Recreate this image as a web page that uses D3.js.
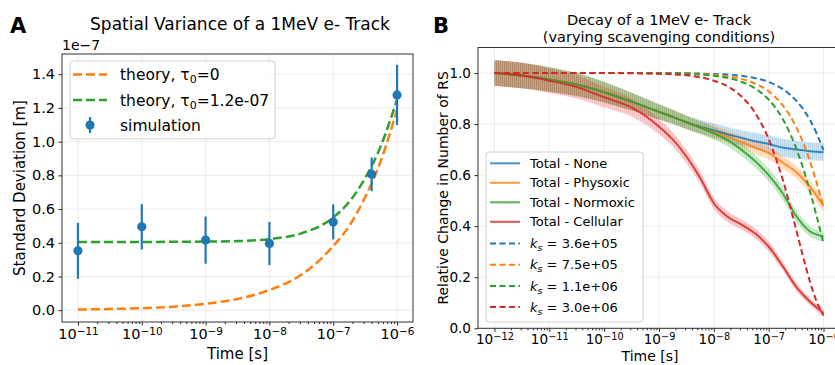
<!DOCTYPE html>
<html>
<head>
<meta charset="utf-8">
<script src="https://cdn.jsdelivr.net/npm/d3@7"></script>
<style>
  body { margin: 0; background: #fff; }
  text { font-family: "DejaVu Sans", sans-serif; fill: #000; }
</style>
</head>
<body>
<div id="chart"></div>
<script>
var width = 835;
var height = 365;

// ---- panel A data (std dev in units of 1e-7 m)
var simTime = [1e-11, 1e-10, 1e-9, 1e-8, 1e-7, 4e-7, 1e-6];
var simMean = [0.352, 0.495, 0.416, 0.396, 0.524, 0.806, 1.277];
var simErr = [0.166, 0.134, 0.14, 0.128, 0.104, 0.1, 0.178];

var theoryTime = [1e-11, 3.16e-11, 1e-10, 3.16e-10, 1e-9, 3.16e-9, 1e-8, 3.16e-8, 1e-7, 1.78e-7, 3.16e-7, 5.62e-7, 1e-6];
var theoryTau0 = [0.004, 0.007, 0.012, 0.021, 0.038, 0.067, 0.12, 0.21, 0.38, 0.50, 0.67, 0.89, 1.19];
var theoryTau12 = [0.405, 0.405, 0.405, 0.406, 0.407, 0.41, 0.422, 0.456, 0.55, 0.643, 0.783, 0.978, 1.25];

var aYTicks = [0.0, 0.2, 0.4, 0.6, 0.8, 1.0, 1.2, 1.4];
var aXTicks = [1e-11, 1e-10, 1e-9, 1e-8, 1e-7, 1e-6];

// ---- panel B data
var decayTime = [1e-12, 3.16e-12, 1e-11, 3.16e-11, 1e-10, 3.16e-10, 1e-9, 1.78e-9, 3.16e-9, 5.62e-9,
  1e-8, 1.78e-8, 3.16e-8, 5.62e-8, 1e-7, 1.78e-7, 3.16e-7, 5.62e-7, 1e-6];
var totalNone     = [1.0, 0.99, 0.975, 0.955, 0.925, 0.888, 0.848, 0.828, 0.807, 0.79, 0.775, 0.76, 0.746, 0.733, 0.722, 0.708, 0.70, 0.694, 0.69];
var totalPhysoxic = [1.0, 0.99, 0.975, 0.955, 0.925, 0.888, 0.848, 0.828, 0.807, 0.787, 0.768, 0.75, 0.73, 0.708, 0.686, 0.65, 0.612, 0.555, 0.48];
var totalNormoxic = [1.0, 0.99, 0.975, 0.955, 0.925, 0.888, 0.848, 0.828, 0.807, 0.786, 0.764, 0.737, 0.70, 0.655, 0.60, 0.53, 0.44, 0.38, 0.36];
var totalCellular = [1.0, 0.99, 0.97, 0.945, 0.905, 0.865, 0.79, 0.74, 0.673, 0.59, 0.49, 0.437, 0.407, 0.372, 0.32, 0.245, 0.163, 0.105, 0.06];
var spreadNone     = [0.05, 0.05, 0.048, 0.045, 0.04, 0.035, 0.03, 0.028, 0.027, 0.027, 0.027, 0.028, 0.03, 0.032, 0.034, 0.035, 0.035, 0.035, 0.035];
var spreadPhysoxic = [0.05, 0.05, 0.048, 0.045, 0.04, 0.035, 0.03, 0.028, 0.026, 0.025, 0.025, 0.025, 0.025, 0.025, 0.025, 0.025, 0.025, 0.025, 0.025];
var spreadNormoxic = [0.05, 0.05, 0.048, 0.045, 0.04, 0.035, 0.03, 0.028, 0.026, 0.025, 0.025, 0.025, 0.025, 0.025, 0.025, 0.025, 0.022, 0.02, 0.02];
var spreadCellular = [0.05, 0.05, 0.048, 0.045, 0.04, 0.035, 0.03, 0.028, 0.026, 0.024, 0.022, 0.022, 0.02, 0.02, 0.02, 0.018, 0.016, 0.015, 0.015];

var ksTime = [1e-12, 1e-11, 1e-10, 1e-9, 3.16e-9, 1e-8, 1.78e-8, 3.16e-8, 5.62e-8, 1e-7,
  1.33e-7, 1.78e-7, 2.37e-7, 3.16e-7, 4.22e-7, 5.62e-7, 7.5e-7, 1e-6];
var ks36 = [1, 1, 1, 1.0, 0.999, 0.996, 0.994, 0.989, 0.980, 0.965, 0.953, 0.938, 0.918, 0.892, 0.859, 0.817, 0.763, 0.698];
var ks75 = [1, 1, 1, 0.999, 0.998, 0.993, 0.987, 0.977, 0.959, 0.928, 0.905, 0.875, 0.837, 0.789, 0.729, 0.656, 0.570, 0.472];
var ks11 = [1, 1, 1, 0.999, 0.997, 0.989, 0.981, 0.966, 0.940, 0.896, 0.864, 0.822, 0.770, 0.706, 0.629, 0.539, 0.438, 0.333];
var ks30 = [1, 1, 1, 0.997, 0.991, 0.970, 0.948, 0.909, 0.845, 0.741, 0.670, 0.587, 0.491, 0.387, 0.282, 0.185, 0.105, 0.050];

var bYTicks = [0.0, 0.2, 0.4, 0.6, 0.8, 1.0];
var bXTicks = [1e-12, 1e-11, 1e-10, 1e-9, 1e-8, 1e-7, 1e-6];

var totalNames = ["Total - None", "Total - Physoxic", "Total - Normoxic", "Total - Cellular"];
var ksLabels = ["3.6e+05", "7.5e+05", "1.1e+06", "3.0e+06"];
var colors = ["#1f77b4", "#ff7f0e", "#2ca02c", "#d62728"];

var svg = d3.select("#chart")
  .append("svg")
  .attr("width", width)
  .attr("height", height);

function minorTicks(lo, hi) {
  var out = [];
  for (var e = lo; e < hi; e++) {
    for (var m = 2; m < 10; m++) out.push(m * Math.pow(10, e));
  }
  return out;
}

function drawAxes(g, x, y, box, xticks, yticks, minor, fs, pad) {
  // grid
  g.append("g").selectAll("line").data(xticks).enter().append("line")
    .attr("x1", function(d) { return x(d); }).attr("x2", function(d) { return x(d); })
    .attr("y1", box.top).attr("y2", box.bottom)
    .attr("stroke", "#b0b0b0").attr("stroke-opacity", 0.3).attr("stroke-width", 0.8);
  g.append("g").selectAll("line").data(yticks).enter().append("line")
    .attr("x1", box.left).attr("x2", box.right)
    .attr("y1", function(d) { return y(d); }).attr("y2", function(d) { return y(d); })
    .attr("stroke", "#b0b0b0").attr("stroke-opacity", 0.3).attr("stroke-width", 0.8);

  var xa = g.append("g")
    .attr("transform", "translate(0," + box.bottom + ")")
    .call(d3.axisBottom(x).tickValues(xticks).tickSize(3.5).tickPadding(pad).tickFormat(function() { return ""; }));
  xa.select(".domain").remove();
  xa.selectAll("text").each(function(d) {
    var t = d3.select(this).attr("font-size", fs).attr("dy", "0.71em").attr("fill", "#000");
    t.append("tspan").text("10");
    t.append("tspan").attr("dy", "-0.45em").attr("font-size", fs * 0.72)
      .text("\u2212" + Math.round(-Math.log10(d)));
  });
  var xm = g.append("g")
    .attr("transform", "translate(0," + box.bottom + ")")
    .call(d3.axisBottom(x).tickValues(minor).tickSize(2).tickFormat(""));
  xm.select(".domain").remove();

  var ya = g.append("g")
    .attr("transform", "translate(" + box.left + ",0)")
    .call(d3.axisLeft(y).tickValues(yticks).tickSize(3.5).tickPadding(3.5).tickFormat(d3.format(".1f")));
  ya.select(".domain").remove();
  ya.selectAll("text").attr("font-size", fs).attr("fill", "#000");
  g.selectAll(".tick line").attr("stroke", "#222");
}

function frame(g, box) {
  g.append("rect")
    .attr("x", box.left).attr("y", box.top)
    .attr("width", box.right - box.left).attr("height", box.bottom - box.top)
    .attr("fill", "none").attr("stroke", "#333").attr("stroke-width", 1);
}

// =================== Panel A
var boxA = {left: 62, right: 413, top: 54, bottom: 322};
var xA = d3.scaleLog().domain([Math.pow(10, -11.25), Math.pow(10, -5.75)]).range([boxA.left, boxA.right]);
var yA = d3.scaleLinear().domain([-0.07, 1.52]).range([boxA.bottom, boxA.top]);
var gA = svg.append("g");
drawAxes(gA, xA, yA, boxA, aXTicks, aYTicks, minorTicks(-11, -6), 14.5, 3.5);

var lineA = d3.line()
  .x(function(d) { return xA(d[0]); })
  .y(function(d) { return yA(d[1]); })
  .curve(d3.curveMonotoneX);

gA.append("path")
  .datum(d3.zip(theoryTime, theoryTau0))
  .attr("d", lineA)
  .attr("fill", "none").attr("stroke", colors[1]).attr("stroke-width", 2.5)
  .attr("stroke-dasharray", "9,4");
gA.append("path")
  .datum(d3.zip(theoryTime, theoryTau12))
  .attr("d", lineA)
  .attr("fill", "none").attr("stroke", colors[2]).attr("stroke-width", 2.5)
  .attr("stroke-dasharray", "9,4");

var sim = d3.zip(simTime, simMean, simErr);
gA.append("g").selectAll("line").data(sim).enter().append("line")
  .attr("x1", function(d) { return xA(d[0]); })
  .attr("x2", function(d) { return xA(d[0]); })
  .attr("y1", function(d) { return yA(d[1] - d[2]); })
  .attr("y2", function(d) { return yA(d[1] + d[2]); })
  .attr("stroke", colors[0]).attr("stroke-width", 2.2);
gA.append("g").selectAll("circle").data(sim).enter().append("circle")
  .attr("cx", function(d) { return xA(d[0]); })
  .attr("cy", function(d) { return yA(d[1]); })
  .attr("r", 4.6)
  .attr("fill", colors[0]);

frame(gA, boxA);

svg.append("text").attr("x", 10).attr("y", 33).attr("font-size", 21).attr("font-weight", "bold").text("A");
svg.append("text").attr("x", 240).attr("y", 30).attr("text-anchor", "middle").attr("font-size", 17)
  .text("Spatial Variance of a 1MeV e- Track");
svg.append("text").attr("x", 62).attr("y", 50).attr("font-size", 14).text("1e\u22127");
svg.append("text").attr("x", 237.5).attr("y", 359).attr("text-anchor", "middle").attr("font-size", 15).text("Time [s]");
svg.append("text").attr("transform", "translate(25," + (boxA.top + boxA.bottom) / 2 + ") rotate(-90)")
  .attr("text-anchor", "middle").attr("font-size", 15).text("Standard Deviation [m]");

// legend A
var legA = svg.append("g");
legA.append("rect").attr("x", 70).attr("y", 61).attr("width", 205).attr("height", 78).attr("rx", 3)
  .attr("fill", "#fff").attr("fill-opacity", 0.8).attr("stroke", "#d0d0d0");
[[colors[1], "0"], [colors[2], "1.2e-07"]].forEach(function(d, i) {
  var yy = 74.5 + i * 25.5;
  legA.append("line").attr("x1", 73).attr("x2", 107).attr("y1", yy).attr("y2", yy)
    .attr("stroke", d[0]).attr("stroke-width", 2.5).attr("stroke-dasharray", "9,4");
  var t = legA.append("text").attr("x", 120).attr("y", yy + 5.5).attr("font-size", 15.5);
  t.append("tspan").text("theory, \u03c4");
  t.append("tspan").attr("dy", 3).attr("font-size", 11).text("0");
  t.append("tspan").attr("dy", -3).text("=" + d[1]);
});
legA.append("line").attr("x1", 90).attr("x2", 90).attr("y1", 117).attr("y2", 133)
  .attr("stroke", colors[0]).attr("stroke-width", 2.2);
legA.append("circle").attr("cx", 90).attr("cy", 125).attr("r", 4.6).attr("fill", colors[0]);
legA.append("text").attr("x", 120).attr("y", 130.5).attr("font-size", 15.5).text("simulation");

// =================== Panel B
var boxB = {left: 478, right: 840, top: 47.5, bottom: 328.3};
var xB = d3.scaleLog().domain([Math.pow(10, -12.3), Math.pow(10, -5.7)]).range([boxB.left, boxB.right]);
var yB = d3.scaleLinear().domain([0, 1.1]).range([boxB.bottom, boxB.top]);
var gB = svg.append("g");
drawAxes(gB, xB, yB, boxB, bXTicks, bYTicks, minorTicks(-12, -6), 13.6, 2.5);

var totals = [totalNone, totalPhysoxic, totalNormoxic, totalCellular];
var spreads = [spreadNone, spreadPhysoxic, spreadNormoxic, spreadCellular];
var kss = [ks36, ks75, ks11, ks30];

var areaB = d3.area()
  .x(function(d) { return xB(d[0]); })
  .y0(function(d) { return yB(d[1] - d[2]); })
  .y1(function(d) { return yB(d[1] + d[2]); })
  .curve(d3.curveMonotoneX);
var lineB = d3.line()
  .x(function(d) { return xB(d[0]); })
  .y(function(d) { return yB(d[1]); })
  .curve(d3.curveMonotoneX);

// vertical hatch for the spread bands
var defs = svg.append("defs");
colors.forEach(function(c, i) {
  var p = defs.append("pattern").attr("id", "band" + i).attr("patternUnits", "userSpaceOnUse")
    .attr("width", 2).attr("height", 4);
  p.append("rect").attr("width", 2).attr("height", 4).attr("fill", c).attr("fill-opacity", 0.2);
  p.append("rect").attr("width", 1).attr("height", 4).attr("fill", c).attr("fill-opacity", 0.12);
});

totals.forEach(function(vals, i) {
  gB.append("path")
    .datum(d3.zip(decayTime, vals, spreads[i]))
    .attr("d", areaB)
    .attr("fill", "url(#band" + i + ")");
});
totals.forEach(function(vals, i) {
  gB.append("path")
    .datum(d3.zip(decayTime, vals))
    .attr("d", lineB)
    .attr("fill", "none").attr("stroke", colors[i]).attr("stroke-opacity", 0.85).attr("stroke-width", 2);
});
kss.forEach(function(vals, i) {
  gB.append("path")
    .datum(d3.zip(ksTime, vals))
    .attr("d", lineB)
    .attr("fill", "none").attr("stroke", colors[i]).attr("stroke-width", 2)
    .attr("stroke-dasharray", "6,3.5");
});

frame(gB, boxB);

svg.append("text").attr("x", 433).attr("y", 33).attr("font-size", 21).attr("font-weight", "bold").text("B");
svg.append("text").attr("x", 659).attr("y", 25).attr("text-anchor", "middle").attr("font-size", 14.5)
  .text("Decay of a 1MeV e- Track");
svg.append("text").attr("x", 659).attr("y", 42).attr("text-anchor", "middle").attr("font-size", 14.5)
  .text("(varying scavenging conditions)");
svg.append("text").attr("x", 650).attr("y", 361).attr("text-anchor", "middle").attr("font-size", 14).text("Time [s]");
svg.append("text").attr("transform", "translate(448," + (boxB.top + boxB.bottom) / 2 + ") rotate(-90)")
  .attr("text-anchor", "middle").attr("font-size", 14).text("Relative Change in Number of RS");

// legend B
var legB = svg.append("g");
legB.append("rect").attr("x", 486).attr("y", 152).attr("width", 157).attr("height", 170).attr("rx", 3)
  .attr("fill", "#fff").attr("fill-opacity", 0.8).attr("stroke", "#d0d0d0");
totalNames.forEach(function(name, i) {
  var yy = 163.3 + i * 19.5;
  legB.append("line").attr("x1", 490).attr("x2", 520).attr("y1", yy).attr("y2", yy)
    .attr("stroke", colors[i]).attr("stroke-opacity", 0.8).attr("stroke-width", 2);
  legB.append("text").attr("x", 530).attr("y", yy + 4.6).attr("font-size", 13).text(name);
});
ksLabels.forEach(function(lab, i) {
  var yy = 243.5 + i * 21.2;
  legB.append("line").attr("x1", 490).attr("x2", 520).attr("y1", yy).attr("y2", yy)
    .attr("stroke", colors[i]).attr("stroke-width", 2).attr("stroke-dasharray", "6,3.5");
  var t = legB.append("text").attr("x", 530).attr("y", yy + 4.6).attr("font-size", 13);
  t.append("tspan").attr("font-style", "italic").text("k");
  t.append("tspan").attr("dy", 3).attr("font-size", 9.5).attr("font-style", "italic").text("s");
  t.append("tspan").attr("dy", -3).text(" = " + lab);
});
</script>
</body>
</html>
